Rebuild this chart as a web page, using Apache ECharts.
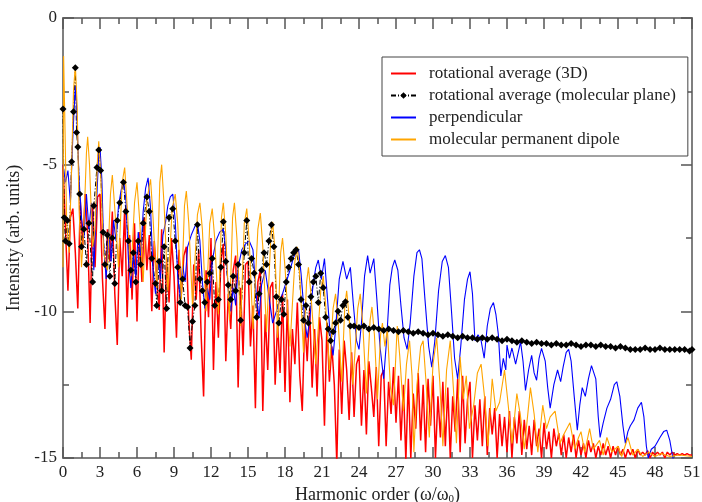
<!DOCTYPE html>
<html>
<head>
<meta charset="utf-8">
<script src="https://cdn.jsdelivr.net/npm/echarts@6/dist/echarts.min.js"></script>
<style>
  html, body { margin: 0; padding: 0; background: #fff; }
  #chart { width: 702px; height: 502px; }
</style>
</head>
<body>
<div id="chart"></div>
<script>
const seriesNames = [
  "rotational average (3D)",
  "rotational average (molecular plane)",
  "perpendicular",
  "molecular permanent dipole",
];
const seriesColors = ["#ff0000", "#000000", "#0000ff", "#ffa500"];
const xTicks = [0, 3, 6, 9, 12, 15, 18, 21, 24, 27, 30, 33, 36, 39, 42, 45, 48, 51];
const yTicks = [0, -5, -10, -15];

// red curve: one value every 0.2 harmonic, starting at 0
const RED_STEP = 0.2;
const redY = [
  -5.0, -7.2, -9.3, -6.8, -6.5,
  -8.0, -9.9, -6.2, -7.8, -6.0,
  -7.4, -10.4, -6.4, -8.5, -6.1,
  -6.0, -8.9, -10.6, -7.2, -8.3,
  -6.6, -9.4, -11.15, -7.5, -8.8,
  -6.5, -10.2, -7.4, -9.6, -7.0,
  -10.35, -7.3, -9.0, -6.8, -8.6,
  -7.4, -10.0, -7.6, -8.9, -9.95,
  -7.2, -11.4, -8.2, -9.7, -7.5,
  -8.8, -10.9, -7.9, -9.4, -8.1,
  -7.8, -10.3, -11.65, -8.4, -9.6,
  -7.9, -10.8, -12.9, -8.6, -10.2,
  -7.5, -12.0, -9.0, -10.9, -8.3,
  -7.7, -11.7, -9.4, -10.6, -8.6,
  -8.1, -12.6, -9.2, -11.5, -8.4,
  -8.3, -11.2, -9.8, -13.3, -9.0,
  -8.6, -13.4, -10.1, -12.0, -9.2,
  -9.0, -12.5, -10.4, -12.1, -9.4,
  -12.75, -9.6, -13.1, -10.6, -11.8,
  -9.7, -12.2, -13.4, -10.3, -11.7,
  -9.9, -12.6, -10.6, -12.9, -10.2,
  -11.0, -13.9, -10.4, -12.4, -11.2,
  -12.5, -15.2, -11.3, -13.5, -11.0,
  -12.0, -13.7, -11.4, -13.6, -11.8,
  -11.5, -13.9, -12.0, -14.2, -11.7,
  -12.6, -13.6, -11.9, -14.6, -12.2,
  -12.0, -14.6, -12.4, -13.5, -11.9,
  -13.8, -12.2, -14.4, -12.5, -15.1,
  -12.3, -15.0, -12.8, -14.0, -12.1,
  -14.4, -12.5, -14.8, -12.3, -13.9,
  -12.2, -15.0, -12.9, -14.3, -12.4,
  -14.6, -12.6, -15.0, -12.9, -14.1,
  -12.3, -14.8, -12.2, -14.5, -13.0,
  -12.4, -15.0, -13.2, -14.4, -13.0,
  -14.6, -12.9, -14.9, -13.3, -14.2,
  -13.3, -15.0, -13.5, -14.6, -13.6,
  -14.8, -13.4, -15.0, -13.6, -14.5,
  -13.4, -14.9, -13.7, -14.7, -13.9,
  -14.9, -13.7, -14.6, -14.0, -15.0,
  -13.8, -14.7, -14.1, -15.0, -14.0,
  -14.6, -14.15, -14.9, -14.2, -15.0,
  -14.3, -14.8, -14.2, -15.0, -14.4,
  -14.9, -14.5, -15.0, -14.4, -14.8,
  -14.5, -15.0, -14.6, -14.9, -14.5,
  -14.9, -14.6, -15.0, -14.6, -14.9,
  -14.6, -14.9, -14.7, -15.0, -14.7,
  -14.9, -14.7, -15.0, -14.7, -14.9,
  -14.8, -14.9, -14.75, -15.0, -14.8,
  -14.9, -14.8, -14.9, -14.8, -15.0,
  -14.8, -14.9, -14.8, -14.9, -14.85,
  -14.9, -14.85, -14.9, -14.85, -14.9,
  -14.9,
];

const planeData = [
  [0, -3.1], [0.1, -6.8], [0.2, -7.6], [0.35, -6.9], [0.5, -7.7], [0.7, -4.9], [0.85, -3.2],
  [1.0, -1.7], [1.1, -3.9], [1.2, -4.4], [1.35, -6.0], [1.5, -7.8], [1.7, -7.2], [1.9, -8.4],
  [2.1, -7.0], [2.4, -9.0], [2.5, -6.4], [2.75, -5.1], [2.9, -4.5], [3.05, -5.2], [3.25, -7.3],
  [3.4, -8.4], [3.6, -7.4], [3.8, -8.8], [4.0, -7.5], [4.2, -9.05], [4.4, -6.9], [4.6, -6.3],
  [4.9, -5.6], [5.1, -6.6], [5.3, -7.6], [5.5, -8.6], [5.7, -8.0], [5.9, -9.0], [6.1, -7.6],
  [6.3, -8.4], [6.5, -7.0], [6.8, -6.1], [7.0, -6.6], [7.2, -8.2], [7.5, -9.05], [7.6, -9.8],
  [7.8, -8.3], [8.0, -9.3], [8.2, -7.8], [8.4, -9.9], [8.6, -6.8], [8.9, -6.5], [9.1, -7.6],
  [9.3, -8.5], [9.5, -9.7], [9.7, -8.9], [9.9, -9.8], [10.1, -9.85], [10.3, -11.25], [10.5, -10.35],
  [10.7, -9.8], [10.9, -7.05], [11.1, -8.9], [11.3, -9.3], [11.5, -9.7], [11.7, -9.0], [11.9, -8.7],
  [12.1, -8.2], [12.3, -9.8], [12.6, -9.6], [12.8, -8.5], [13.0, -6.95], [13.2, -8.3], [13.4, -9.1],
  [13.6, -9.6], [13.8, -8.8], [14.0, -9.3], [14.2, -8.4], [14.4, -10.3], [14.7, -8.0], [14.9, -6.9],
  [15.1, -9.0], [15.3, -8.2], [15.5, -8.7], [15.7, -10.2], [15.9, -9.4], [16.1, -8.6], [16.3, -8.0],
  [16.5, -8.4], [16.7, -7.6], [16.9, -7.05], [17.1, -7.8], [17.3, -9.5], [17.5, -10.4], [17.7, -9.6],
  [17.9, -10.1], [18.1, -9.0], [18.3, -8.5], [18.5, -8.2], [18.7, -8.0], [18.9, -7.9], [19.1, -8.4],
  [19.3, -9.6], [19.5, -10.3], [19.7, -9.8], [19.9, -10.4], [20.1, -9.5], [20.3, -9.0], [20.5, -8.8],
  [20.7, -9.7], [20.9, -8.7], [21.1, -9.2], [21.3, -10.2], [21.5, -10.6], [21.7, -11.0], [21.9, -10.7],
  [22.1, -10.4], [22.3, -10.0], [22.5, -10.3], [22.7, -9.8], [22.9, -9.67], [23.1, -10.2], [23.3, -10.5],
  [23.6, -10.5], [24.0, -10.55], [24.4, -10.5], [24.8, -10.6], [25.2, -10.55], [25.6, -10.6],
  [26.0, -10.65], [26.4, -10.6], [26.8, -10.65], [27.2, -10.7], [27.6, -10.65], [28.0, -10.7],
  [28.4, -10.75], [28.8, -10.7], [29.2, -10.75], [29.6, -10.8], [30.0, -10.75], [30.4, -10.8],
  [30.8, -10.85], [31.2, -10.8], [31.6, -10.85], [32.0, -10.9], [32.4, -10.85], [32.8, -10.9],
  [33.2, -10.9], [33.6, -10.95], [34.0, -10.9], [34.4, -10.95], [34.8, -10.9], [35.2, -10.95],
  [35.6, -11.0], [36.0, -10.95], [36.4, -11.0], [36.8, -11.05], [37.2, -11.0], [37.6, -11.05],
  [38.0, -11.1], [38.4, -11.05], [38.8, -11.1], [39.2, -11.1], [39.6, -11.15], [40.0, -11.1],
  [40.4, -11.15], [40.8, -11.15], [41.2, -11.1], [41.6, -11.15], [42.0, -11.2], [42.4, -11.15],
  [42.8, -11.15], [43.2, -11.2], [43.6, -11.15], [44.0, -11.2], [44.4, -11.2], [44.8, -11.25],
  [45.2, -11.2], [45.6, -11.25], [46.0, -11.3], [46.4, -11.3], [46.8, -11.3], [47.2, -11.25],
  [47.6, -11.3], [48.0, -11.3], [48.4, -11.25], [48.8, -11.3], [49.2, -11.3], [49.6, -11.3],
  [50.0, -11.3], [50.4, -11.3], [50.8, -11.35], [51.0, -11.3],
];

const perpData = [
  [0, -5.0], [0.2, -5.6], [0.4, -5.2], [0.6, -6.3], [0.8, -4.0], [1.0, -2.3], [1.1, -3.0],
  [1.3, -5.5], [1.5, -6.8], [1.7, -7.5], [1.9, -6.0], [2.1, -7.2], [2.3, -6.3], [2.5, -8.6],
  [2.7, -6.5], [2.9, -4.6], [3.0, -4.4], [3.15, -5.5], [3.3, -7.8], [3.5, -8.9], [3.7, -7.2],
  [3.9, -8.3], [4.1, -6.9], [4.3, -7.6], [4.5, -6.4], [4.7, -5.9], [4.9, -5.5], [5.1, -6.2],
  [5.3, -8.2], [5.5, -9.2], [5.7, -8.0], [5.9, -8.8], [6.1, -7.3], [6.3, -8.1], [6.5, -6.6],
  [6.7, -5.8], [6.9, -5.45], [7.1, -6.5], [7.3, -8.6], [7.5, -9.4], [7.7, -8.2], [7.9, -8.9],
  [8.1, -7.4], [8.3, -7.0], [8.5, -6.4], [8.7, -6.1], [8.9, -6.0], [9.1, -6.9], [9.3, -8.8],
  [9.5, -9.5], [9.7, -8.4], [9.9, -9.0], [10.1, -7.8], [10.4, -7.4], [10.7, -7.1], [10.9, -7.0],
  [11.1, -7.6], [11.3, -9.0], [11.5, -9.9], [11.7, -9.2], [11.9, -9.6], [12.1, -8.3], [12.4, -7.6],
  [12.7, -7.3], [13.0, -7.2], [13.2, -7.9], [13.4, -9.3], [13.6, -10.0], [13.8, -9.2], [14.0, -9.8],
  [14.2, -8.5], [14.5, -7.9], [14.8, -7.7], [15.1, -7.6], [15.4, -7.9], [15.7, -9.6], [15.9, -10.2],
  [16.1, -9.1], [16.4, -8.6], [16.7, -9.5], [17.0, -10.4], [17.3, -10.0], [17.6, -9.6], [17.8, -9.4],
  [18.1, -9.0], [18.4, -8.6], [18.7, -8.15], [19.1, -7.9], [19.3, -8.7], [19.6, -10.3], [19.8, -10.9],
  [20.0, -10.3], [20.3, -9.0], [20.5, -8.5], [20.7, -8.25], [20.95, -8.9], [21.2, -8.2], [21.45, -9.6],
  [21.7, -11.0], [21.9, -11.5], [22.1, -10.6], [22.4, -8.9], [22.7, -8.3], [23.0, -8.9], [23.3, -8.5],
  [23.55, -9.8], [23.8, -11.0], [24.0, -11.3], [24.2, -10.4], [24.45, -8.8], [24.7, -8.1], [24.9, -8.7],
  [25.2, -8.2], [25.45, -9.6], [25.7, -11.2], [26.0, -12.3], [26.25, -10.9], [26.5, -9.1], [26.7, -8.5],
  [26.9, -8.25], [27.15, -8.6], [27.4, -9.8], [27.65, -10.9], [27.9, -11.3], [28.15, -10.4], [28.45, -8.8],
  [28.7, -8.0], [28.9, -7.9], [29.1, -8.2], [29.35, -9.6], [29.65, -11.2], [29.9, -11.9], [30.15, -11.0],
  [30.45, -9.3], [30.75, -8.3], [31.0, -8.1], [31.25, -8.5], [31.5, -10.0], [31.75, -11.6], [32.0, -12.3],
  [32.25, -11.2], [32.55, -9.6], [32.8, -8.9], [33.0, -8.65], [33.2, -9.4], [33.4, -11.0], [33.65, -10.8],
  [33.9, -11.0], [34.15, -11.6], [34.4, -10.5], [34.65, -9.9], [34.9, -9.7], [35.1, -10.1], [35.3, -10.8],
  [35.5, -12.2], [35.7, -11.6], [35.9, -12.0], [36.0, -11.15], [36.2, -11.6], [36.4, -11.25], [36.7, -11.8],
  [37.1, -11.04], [37.3, -11.7], [37.5, -12.7], [37.75, -12.0], [38.0, -11.5], [38.2, -12.1], [38.4, -12.35],
  [38.6, -11.6], [38.8, -11.26], [39.1, -11.7], [39.3, -12.6], [39.5, -13.3], [39.8, -12.5], [40.1, -12.0],
  [40.35, -12.4], [40.55, -11.9], [40.8, -11.4], [41.0, -11.3], [41.2, -11.7], [41.45, -12.9], [41.7, -14.05],
  [41.9, -13.2], [42.1, -12.6], [42.35, -12.9], [42.6, -12.3], [42.85, -11.85], [43.0, -11.8], [43.2, -12.3],
  [43.4, -13.6], [43.55, -14.3], [43.8, -13.8], [44.1, -13.3], [44.4, -13.0], [44.7, -12.5], [44.9, -12.4],
  [45.15, -12.9], [45.4, -13.9], [45.6, -14.5], [45.8, -14.1], [46.0, -13.9], [46.3, -13.7], [46.6, -13.3],
  [46.9, -13.1], [47.1, -13.6], [47.3, -14.6], [47.45, -15.0], [47.7, -14.7], [48.0, -14.6], [48.4, -14.3],
  [48.7, -14.1], [48.95, -14.05], [49.2, -14.4], [49.45, -15.0], [49.7, -15.3], [51, -15.3],
];

const dipoleData = [
  [0, -8.5], [0.05, -1.3], [0.15, -3.5], [0.3, -7.0], [0.5, -8.0], [0.7, -5.0], [0.85, -2.5],
  [1.0, -1.6], [1.15, -3.0], [1.3, -6.5], [1.5, -8.5], [1.7, -7.0], [1.9, -4.6], [2.0, -4.05],
  [2.15, -5.0], [2.4, -7.8], [2.6, -7.2], [2.8, -4.8], [2.9, -4.2], [3.05, -5.3], [3.3, -8.0],
  [3.6, -8.6], [3.85, -6.0], [4.0, -5.35], [4.2, -6.5], [4.5, -8.5], [4.8, -5.6], [5.0, -5.1],
  [5.2, -6.4], [5.5, -8.8], [5.8, -6.3], [6.0, -5.6], [6.2, -6.8], [6.5, -9.0], [6.8, -6.2],
  [7.1, -5.5], [7.3, -6.8], [7.6, -9.2], [7.85, -5.6], [8.0, -5.0], [8.2, -6.4], [8.5, -9.3],
  [8.85, -6.5], [9.1, -6.0], [9.3, -7.0], [9.6, -9.6], [9.85, -6.4], [10.0, -5.9], [10.2, -7.0],
  [10.5, -9.8], [10.9, -6.7], [11.1, -6.3], [11.3, -7.2], [11.6, -10.0], [11.9, -7.0], [12.1, -6.5],
  [12.3, -7.5], [12.6, -10.1], [12.85, -6.8], [13.0, -6.3], [13.2, -7.4], [13.5, -10.3], [13.75, -6.8],
  [13.9, -6.3], [14.1, -7.5], [14.4, -10.5], [14.7, -7.0], [14.9, -6.5], [15.1, -7.6], [15.4, -10.6],
  [15.8, -7.2], [16.0, -6.65], [16.2, -7.8], [16.5, -10.7], [16.85, -7.5], [17.0, -6.95], [17.2, -8.0],
  [17.4, -10.9], [17.65, -8.0], [17.8, -7.5], [18.0, -8.5], [18.4, -11.2], [18.8, -8.3], [19.0, -7.8],
  [19.2, -8.8], [19.5, -11.4], [19.75, -9.0], [19.9, -8.5], [20.1, -9.4], [20.5, -11.8], [20.9, -9.3],
  [21.1, -8.8], [21.3, -9.8], [21.6, -12.0], [21.9, -9.9], [22.1, -9.4], [22.3, -10.3], [22.6, -12.4],
  [22.85, -9.8], [23.0, -9.3], [23.2, -10.2], [23.5, -12.5], [23.9, -9.9], [24.1, -9.4], [24.3, -10.4],
  [24.6, -12.8], [24.9, -10.3], [25.05, -9.85], [25.25, -10.8], [25.5, -13.0], [25.75, -10.8],
  [25.9, -10.4], [26.1, -11.2], [26.3, -10.6], [26.55, -12.6], [26.8, -13.2], [27.1, -10.5],
  [27.3, -11.5], [27.6, -13.4], [27.85, -11.8], [28.1, -11.0], [28.3, -12.2], [28.45, -14.8],
  [28.7, -12.5], [29.0, -11.2], [29.2, -11.0], [29.45, -12.5], [29.7, -14.3], [30.0, -11.8],
  [30.3, -10.9], [30.55, -12.4], [30.8, -14.6], [31.1, -12.0], [31.4, -11.0], [31.65, -12.6],
  [31.9, -14.5], [32.2, -11.55], [32.45, -13.0], [32.7, -12.2], [32.95, -14.0], [33.3, -13.2],
  [33.6, -12.1], [33.9, -11.8], [34.2, -13.0], [34.45, -14.6], [34.8, -12.3], [35.1, -13.4],
  [35.4, -13.1], [35.8, -12.0], [36.1, -13.2], [36.4, -14.5], [36.8, -12.8], [37.1, -13.6],
  [37.4, -14.7], [37.9, -12.6], [38.2, -13.5], [38.5, -14.8], [38.9, -13.2], [39.2, -14.0],
  [39.5, -13.6], [39.9, -13.4], [40.3, -14.5], [40.6, -14.2], [41.1, -13.8], [41.5, -14.7],
  [41.8, -14.3], [42.0, -14.1], [42.3, -14.8], [42.7, -14.0], [43.0, -14.7], [43.5, -14.4],
  [43.8, -14.9], [44.1, -14.3], [44.5, -14.8], [45.0, -14.6], [45.3, -14.95], [45.8, -14.3],
  [46.2, -14.9], [46.6, -14.7], [47.0, -14.95], [47.5, -14.8], [48.0, -14.95], [48.5, -14.85],
  [49.2, -14.95], [50.0, -14.9], [51, -14.95],
];

const serif = "Liberation Serif, DejaVu Serif, serif";
const frame = "#7f7f7f";

const chart = echarts.init(document.getElementById("chart"), null, { renderer: "canvas" });

function xAx(pos) {
  const bottom = pos === "bottom";
  return {
    type: "value",
    position: pos,
    min: 0,
    max: 51,
    interval: 3,
    axisLine: { show: true, onZero: false, lineStyle: { color: frame, width: 2 } },
    axisTick: { show: true, inside: true, length: 11, lineStyle: { color: "#555", width: 1.5 } },
    minorTick: { show: true, splitNumber: 2, length: 6, lineStyle: { color: "#555", width: 1.5 } },
    splitLine: { show: false },
    axisLabel: {
      show: bottom,
      margin: 6,
      fontFamily: serif,
      fontSize: 17,
      color: "#222",
      customValues: xTicks,
    },
    name: bottom ? "Harmonic order (\u03c9/\u03c9{sub|0})" : "",
    nameLocation: "middle",
    nameGap: 23,
    nameTextStyle: {
      fontFamily: serif,
      fontSize: 18,
      color: "#222",
      rich: { sub: { fontFamily: serif, fontSize: 11, color: "#222", verticalAlign: "bottom", padding: [9, 0, 0, 0] } },
    },
  };
}

function yAx(pos) {
  const left = pos === "left";
  return {
    type: "value",
    position: pos,
    min: -15,
    max: 0,
    interval: 5,
    axisLine: { show: true, onZero: false, lineStyle: { color: frame, width: 2 } },
    axisTick: { show: true, inside: true, length: 11, lineStyle: { color: "#555", width: 1.5 } },
    minorTick: { show: true, splitNumber: 2, length: 6, lineStyle: { color: "#555", width: 1.5 } },
    splitLine: { show: false },
    axisLabel: {
      show: left,
      margin: 6,
      fontFamily: serif,
      fontSize: 17,
      color: "#222",
      customValues: yTicks,
    },
    name: left ? "Intensity (arb. units)" : "",
    nameLocation: "middle",
    nameGap: 34,
    nameTextStyle: { fontFamily: serif, fontSize: 18, color: "#222" },
  };
}

// line-only legend entries: hide the symbol that the line legend icon adds
const noMark = { opacity: 0 };

const option = {
  animation: false,
  backgroundColor: "#fff",
  grid: { left: 63, right: 10, top: 18, bottom: 44, containLabel: false, outerBoundsMode: "none" },
  legend: {
    orient: "vertical",
    left: 382,
    top: 57,
    padding: [8, 12, 8, 8],
    itemGap: 5,
    itemWidth: 25,
    itemHeight: 8,
    backgroundColor: "#fff",
    borderColor: "#444",
    borderWidth: 1,
    borderRadius: 0,
    textStyle: { fontFamily: serif, fontSize: 17, color: "#222", padding: [0, 0, 0, 8] },
    data: [
      { name: seriesNames[0], itemStyle: noMark },
      { name: seriesNames[1] },
      { name: seriesNames[2], itemStyle: noMark },
      { name: seriesNames[3], itemStyle: noMark },
    ],
  },
  xAxis: [xAx("bottom"), xAx("top")],
  yAxis: [yAx("left"), yAx("right")],
  series: [
    {
      name: seriesNames[0],
      type: "line",
      data: redY.map((y, i) => [i * RED_STEP, y]),
      showSymbol: false,
      symbol: "none",
      lineStyle: { color: seriesColors[0], width: 1.5 },
      itemStyle: { color: seriesColors[0] },
      clip: true,
    },
    {
      name: seriesNames[1],
      type: "line",
      data: planeData,
      showSymbol: true,
      symbol: "diamond",
      symbolSize: 7,
      lineStyle: { color: seriesColors[1], width: 1, type: [5, 2, 1, 2] },
      itemStyle: { color: seriesColors[1] },
      clip: true,
    },
    {
      name: seriesNames[2],
      type: "line",
      data: perpData,
      showSymbol: false,
      symbol: "none",
      lineStyle: { color: seriesColors[2], width: 1.1 },
      itemStyle: { color: seriesColors[2] },
      clip: true,
    },
    {
      name: seriesNames[3],
      type: "line",
      data: dipoleData,
      showSymbol: false,
      symbol: "none",
      lineStyle: { color: seriesColors[3], width: 1.1 },
      itemStyle: { color: seriesColors[3] },
      clip: true,
    },
  ],
};

chart.setOption(option);
</script>
</body>
</html>
